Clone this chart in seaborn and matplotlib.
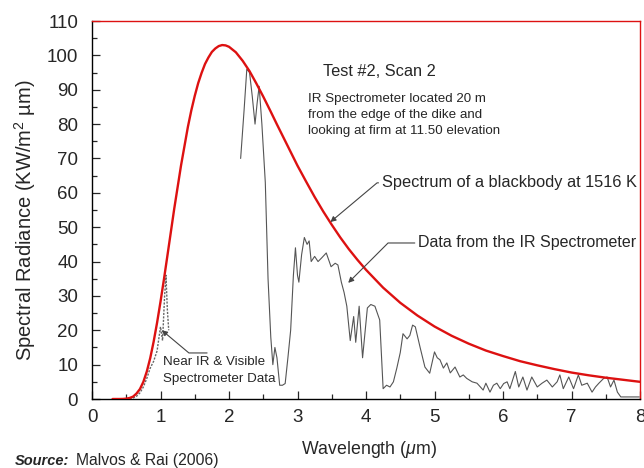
import matplotlib
matplotlib.use("Agg")
import matplotlib.pyplot as plt
import seaborn as sns
import pandas as pd
from matplotlib.ticker import MultipleLocator

# Blackbody curve (1516 K)
bb_wl = [0.3, 0.4, 0.45, 0.5, 0.55, 0.6, 0.65, 0.7, 0.75, 0.8, 0.85, 0.9, 0.95, 1.0, 1.05, 1.1,
         1.2, 1.3, 1.4, 1.45, 1.5, 1.55, 1.6, 1.65, 1.7, 1.75, 1.8, 1.85, 1.9, 1.95, 2.0, 2.1,
         2.2, 2.3, 2.4, 2.5, 2.6, 2.7, 2.8, 2.9, 3.0, 3.125, 3.25, 3.375, 3.5, 3.625, 3.75,
         3.875, 4.0, 4.25, 4.5, 4.75, 5.0, 5.25, 5.5, 5.75, 6.0, 6.25, 6.5, 6.75, 7.0, 7.25,
         7.5, 7.75, 8.0]
bb_val = [0, 0, 0.02, 0.1, 0.3, 0.7, 1.6, 2.9, 5.0, 8.0, 11.9, 16.7, 22.2, 28.3, 34.8, 41.6,
          55.3, 68.0, 79.2, 84.0, 88.2, 91.9, 94.9, 97.5, 99.4, 101.0, 102.0, 102.7, 103.0, 102.9, 102.5, 100.9,
          98.4, 95.4, 91.8, 88.0, 84.0, 79.9, 75.9, 71.9, 67.9, 63.3, 58.8, 54.6, 50.7, 47.0, 43.6,
          40.5, 37.6, 32.4, 28.0, 24.3, 21.1, 18.4, 16.1, 14.1, 12.5, 11.0, 9.8, 8.7, 7.7, 6.9,
          6.2, 5.6, 5.0]

# Near IR & visible spectrometer data
nir_wl = [0.55, 0.6, 0.65, 0.7, 0.75, 0.8, 0.85, 0.9, 0.95, 1.0, 1.03, 1.06, 1.08, 1.1, 1.12]
nir_val = [0, 0.3, 0.8, 1.8, 3.5, 6, 9, 11, 14, 21, 17, 30, 36, 26, 20]

# IR spectrometer data
ir_wl = [2.17, 2.22, 2.26, 2.3, 2.34, 2.38, 2.41, 2.44, 2.48, 2.53, 2.57, 2.61, 2.64, 2.67, 2.7,
         2.74, 2.78, 2.82, 2.86, 2.9, 2.94, 2.97, 3.0, 3.02, 3.06, 3.1, 3.14, 3.17, 3.2, 3.25,
         3.3, 3.35, 3.42, 3.49, 3.55, 3.59, 3.64, 3.68, 3.72, 3.77, 3.82, 3.85, 3.9, 3.95, 4.02,
         4.07, 4.13, 4.2, 4.25, 4.3, 4.35, 4.4, 4.45, 4.5, 4.54, 4.6, 4.64, 4.68, 4.72, 4.79,
         4.86, 4.93, 5.0, 5.04, 5.08, 5.13, 5.18, 5.23, 5.3, 5.37, 5.42, 5.47, 5.55, 5.62, 5.67,
         5.71, 5.75, 5.81, 5.86, 5.91, 5.96, 6.01, 6.06, 6.1, 6.14, 6.18, 6.23, 6.29, 6.35, 6.42,
         6.5, 6.57, 6.64, 6.72, 6.79, 6.83, 6.88, 6.96, 7.03, 7.1, 7.15, 7.23, 7.3, 7.35, 7.4,
         7.47, 7.52, 7.57, 7.62, 7.67, 7.72, 7.85, 7.99]
ir_val = [70, 84, 96, 95, 88, 80, 86, 91, 80, 63, 35, 18, 10, 15, 12,
          4, 4, 4.5, 12, 20, 36, 44, 36, 34, 42, 47, 45, 46, 40, 41.5,
          40, 41, 42.5, 38.5, 39.5, 39, 34, 31, 27, 17, 24, 16.5, 27, 12, 26.5,
          27.5, 27, 23, 3, 4, 3.5, 5, 9, 13.5, 19, 17.5, 18.5, 21.5, 21, 15,
          9.3, 7.5, 13.7, 12, 11.4, 9, 10.5, 7.6, 9.3, 6.4, 7, 6, 5, 4.6, 3.5,
          2.6, 4.6, 2, 4, 4.6, 3, 4.5, 5, 3, 5.5, 8, 3.5, 6.4, 2.6, 6.4,
          3.5, 4.6, 5.5, 3.5, 5, 7, 3, 6.4, 3, 7, 4, 4.6, 2, 3.5, 4.6,
          6, 6.4, 3.5, 5.5, 2, 0.6, 0.6, 0.6]

x_ticks = [0, 1, 2, 3, 4, 5, 6, 7, 8]
y_ticks = [0, 10, 20, 30, 40, 50, 60, 70, 80, 90, 100, 110]

sns.set_style("ticks")
plt.rcParams['font.family'] = ['Liberation Sans', 'DejaVu Sans']
plt.rcParams['mathtext.fontset'] = 'custom'
plt.rcParams['mathtext.it'] = 'Liberation Sans:italic'
plt.rcParams['mathtext.rm'] = 'Liberation Sans'

fig = plt.figure(figsize=(6.44, 4.68), dpi=100)
ax = fig.add_axes([92/644, 1 - 399/468, 548/644, 378/468])

bb = pd.DataFrame({"wl": bb_wl, "val": bb_val})
nir = pd.DataFrame({"wl": nir_wl, "val": nir_val})
ir = pd.DataFrame({"wl": ir_wl, "val": ir_val})

sns.lineplot(data=nir, x="wl", y="val", ax=ax, color="#666666", lw=1.0,
             linestyle=(0, (1.5, 1)), estimator=None, zorder=2)
sns.lineplot(data=ir, x="wl", y="val", ax=ax, color="#555555", lw=0.8,
             estimator=None, zorder=2)
sns.lineplot(data=bb, x="wl", y="val", ax=ax, color="#dd1111", lw=1.7,
             estimator=None, zorder=3)

ax.set_xlim(0, 8)
ax.set_ylim(0, 110)
ax.set_xticks(x_ticks)
ax.set_yticks(y_ticks)
ax.xaxis.set_minor_locator(MultipleLocator(0.5))
ax.yaxis.set_minor_locator(MultipleLocator(5))
ax.tick_params(axis="both", which="major", direction="in", length=6, width=0.9,
               labelsize=13.5)
ax.tick_params(axis="x", which="major", pad=7)
ax.tick_params(axis="y", which="major", pad=10)
ax.tick_params(axis="both", which="minor", direction="in", length=3.5, width=0.9)
ax.tick_params(top=False, right=False, which="both")

for s in ["left", "bottom"]:
    ax.spines[s].set_color("black")
    ax.spines[s].set_linewidth(1.0)
for s in ["top", "right"]:
    ax.spines[s].set_color("#dd1111")
    ax.spines[s].set_linewidth(1.0)

ax.set_xlabel(r"Wavelength ($\mu$m)", fontsize=12.8)
ax.xaxis.label.set_va("center")
ax.xaxis.set_label_coords((369 - 92) / 548, (399 - 450) / 378)
ax.set_ylabel("Spectral Radiance (KW/m$^2$ µm)", fontsize=14.5)
ax.yaxis.label.set_va("center")
ax.yaxis.set_label_coords((25 - 92) / 548, (399 - 220) / 378)

# Title block
ax.text(4.19, 95.2, "Test #2, Scan 2", fontsize=11.8, ha="center", va="center")
ax.text(3.15, 89.1, "IR Spectrometer located 20 m\nfrom the edge of the dike and\nlooking at firm at 11.50 elevation",
        fontsize=9.6, ha="left", va="top", linespacing=1.47)

# Annotations
arrow = dict(arrowstyle="-|>", color="#444444", lw=0.8, mutation_scale=8,
             shrinkA=0, shrinkB=0)
ax.annotate("Spectrum of a blackbody at 1516 K", xy=(3.48, 51.5), xytext=(4.23, 62.9),
            fontsize=11.8, ha="left", va="center",
            arrowprops=dict(arrow, connectionstyle="angle,angleA=0,angleB=40,rad=0"))
ax.annotate("Data from the IR Spectrometer", xy=(3.74, 33.8), xytext=(4.76, 45.4),
            fontsize=11.5, ha="left", va="center",
            arrowprops=dict(arrow, connectionstyle="angle,angleA=0,angleB=45,rad=0"))
ax.annotate("", xy=(1.02, 20), xytext=(1.68, 13.4),
            arrowprops=dict(arrow, connectionstyle="angle,angleA=0,angleB=-40,rad=0"))
ax.text(1.03, 12.4, "Near IR & Visible\nSpectrometer Data", fontsize=9.6,
        ha="left", va="top", linespacing=1.55)

fig.text(15/644, 1 - 461/468, "Source:", fontsize=10.5, fontweight="bold",
         fontstyle="italic", ha="left", va="center")
fig.text(76/644, 1 - 461/468, "Malvos & Rai (2006)", fontsize=11.3,
         ha="left", va="center")

fig.savefig("out.png", dpi=100)
